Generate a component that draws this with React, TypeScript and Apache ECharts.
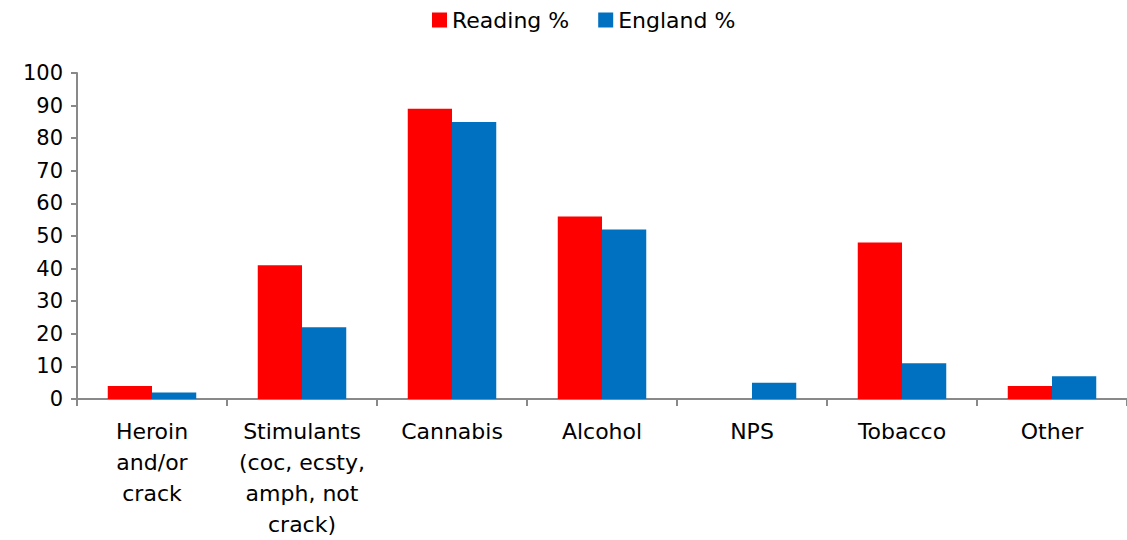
import React, { useEffect, useRef } from "react";
import * as echarts from "echarts";

const categories = [
  "Heroin\nand/or\ncrack",
  "Stimulants\n(coc, ecsty,\namph, not\ncrack)",
  "Cannabis",
  "Alcohol",
  "NPS",
  "Tobacco",
  "Other",
];
const readingValues = [4, 41, 89, 56, 0, 48, 4];
const englandValues = [2, 22, 85, 52, 5, 11, 7];
const yTicks = { min: 0, max: 100, interval: 10 };

const FONT = "'DejaVu Sans', sans-serif";

export default function App() {
  const ref = useRef<HTMLDivElement>(null);
  useEffect(() => {
    if (!ref.current) return;
    const chart = echarts.init(ref.current, undefined, { renderer: "svg" });
    chart.setOption({
      animation: false,
      textStyle: { fontFamily: FONT },
      legend: {
        top: 4,
        left: 427,
        itemWidth: 15,
        itemHeight: 15,
        itemGap: 29,
        icon: "rect",
        textStyle: { fontFamily: FONT, fontSize: 22, color: "#000" },
        data: ["Reading %", "England %"],
      },
      grid: { left: 77, right: -4, top: 73, bottom: 141, containLabel: false },
      xAxis: {
        type: "category",
        data: categories,
        axisLine: { lineStyle: { color: "#898989", width: 2 } },
        axisTick: { show: true, length: 7, lineStyle: { color: "#898989", width: 2 } },
        axisLabel: {
          interval: 0,
          margin: 17,
          fontFamily: FONT,
          fontSize: 22,
          lineHeight: 31,
          color: "#000",
          align: "center",
        },
      },
      yAxis: {
        type: "value",
        min: yTicks.min,
        max: yTicks.max,
        interval: yTicks.interval,
        splitLine: { show: false },
        axisLine: { show: true, lineStyle: { color: "#898989", width: 2 } },
        axisTick: { show: true, length: 6, inside: false, lineStyle: { color: "#898989", width: 2 } },
        axisLabel: { margin: 14, fontFamily: FONT, fontSize: 21, color: "#000" },
      },
      series: [
        {
          name: "Reading %",
          type: "bar",
          data: readingValues,
          itemStyle: { color: "#FF0000" },
          barGap: "0%",
          barCategoryGap: "41%",
        },
        {
          name: "England %",
          type: "bar",
          data: englandValues,
          itemStyle: { color: "#0070C0" },
          barGap: "0%",
          barCategoryGap: "41%",
        },
      ],
    });
    return () => chart.dispose();
  }, []);
  return (
    <div
      ref={ref}
      style={{ position: "fixed", left: 0, top: 0, width: 1127, height: 540, background: "#fff" }}
    />
  );
}
